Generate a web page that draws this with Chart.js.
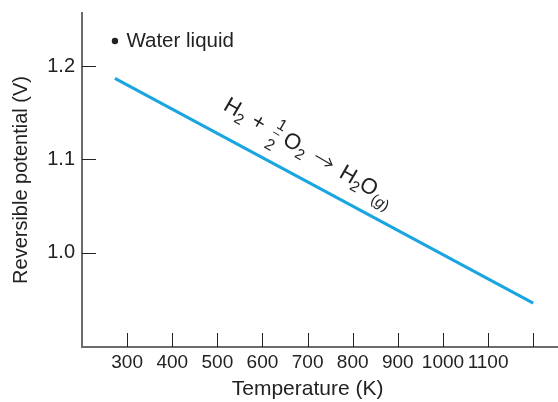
<!DOCTYPE html>
<html><head><meta charset="utf-8">
<script src="https://cdn.jsdelivr.net/npm/chart.js@4"></script>
<style>html,body{margin:0;padding:0;background:#fff}</style>
</head><body>
<canvas id="c" width="558" height="402"></canvas>
<script>
const temperatures = [273, 1200];
const potentials = [1.187, 0.946];
const xTickValues = [300, 400, 500, 600, 700, 800, 900, 1000, 1100, 1200];
const xTickLabels = ['300', '400', '500', '600', '700', '800', '900', '1000', '1100', ''];
const yTickValues = [1.0, 1.1, 1.2];
const yTickLabels = ['1.0', '1.1', '1.2'];
const xTitle = 'Temperature (K)';
const yTitle = 'Reversible potential (V)';
const legendText = 'Water liquid';
const legendPoint = [273, 1.227];
const reactionAnchorT = 486;

const FAMILY = '"Liberation Sans", Arial, Helvetica, sans-serif';
const TXT = '#222';

const insideTicks = {
  id: 'insideTicks',
  afterDraw(chart) {
    const ctx = chart.ctx, xs = chart.scales.x, ys = chart.scales.y;
    ctx.save();
    ctx.strokeStyle = '#222';
    ctx.lineWidth = 1;
    xs.ticks.forEach(t => {
      const px = Math.round(xs.getPixelForValue(t.value)) + 0.5;
      ctx.beginPath(); ctx.moveTo(px, ys.bottom); ctx.lineTo(px, ys.bottom - 14); ctx.stroke();
    });
    ys.ticks.forEach(t => {
      const py = Math.round(ys.getPixelForValue(t.value)) + 0.5;
      ctx.beginPath(); ctx.moveTo(xs.left, py); ctx.lineTo(xs.left + 14, py); ctx.stroke();
    });
    // x axis title centred under the labelled ticks
    const lab = xTickValues.filter((v, i) => xTickLabels[i] !== '');
    const cxT = (xs.getPixelForValue(lab[0]) + xs.getPixelForValue(lab[lab.length - 1])) / 2;
    ctx.fillStyle = TXT;
    ctx.font = '21px ' + FAMILY;
    ctx.textAlign = 'center';
    ctx.textBaseline = 'alphabetic';
    ctx.fillText(xTitle, cxT, xs.bottom - 7);
    ctx.restore();
  }
};

const annotations = {
  id: 'annotations',
  afterDatasetsDraw(chart) {
    const ctx = chart.ctx, xs = chart.scales.x, ys = chart.scales.y;
    ctx.save();
    // legend-like label
    const lx = xs.getPixelForValue(legendPoint[0]);
    const ly = ys.getPixelForValue(legendPoint[1]);
    ctx.fillStyle = TXT;
    ctx.beginPath(); ctx.arc(lx, ly, 3.2, 0, Math.PI * 2); ctx.fill();
    ctx.font = '20.5px ' + FAMILY;
    ctx.textBaseline = 'alphabetic';
    ctx.textAlign = 'left';
    ctx.fillText(legendText, lx + 11.5, ly + 6);

    // reaction text along the line
    const x0 = xs.getPixelForValue(temperatures[0]), y0 = ys.getPixelForValue(potentials[0]);
    const x1 = xs.getPixelForValue(temperatures[1]), y1 = ys.getPixelForValue(potentials[1]);
    const ang = Math.atan2(y1 - y0, x1 - x0);
    const ax = xs.getPixelForValue(reactionAnchorT);
    const ay = y0 + (ax - x0) * (y1 - y0) / (x1 - x0);
    const off = 23.7;
    const bx = ax + Math.sin(ang) * off, by = ay - Math.cos(ang) * off;
    ctx.translate(bx, by);
    ctx.rotate(ang + 2 * Math.PI / 180);
    let cx = 0;
    const big = '22px ' + FAMILY, small = '15px ' + FAMILY, smallIt = 'italic 15px ' + FAMILY;
    function put(t, font, dy, kern) {
      ctx.font = font;
      cx += kern || 0;
      ctx.fillText(t, cx, dy || 0);
      cx += ctx.measureText(t).width;
    }
    put('H', big); put('2', small, 5, -0.5);
    cx += 8; put('+', big); cx += 10;
    // fraction 1/2
    ctx.font = '16px ' + FAMILY;
    const fw = ctx.measureText('2').width;
    ctx.fillText('1', cx + 1, -11);
    ctx.fillText('2', cx, 12);
    ctx.lineWidth = 1; ctx.strokeStyle = TXT;
    ctx.beginPath(); ctx.moveTo(cx + 1, -6); ctx.lineTo(cx + fw - 1, -6); ctx.stroke();
    cx += fw + 5;
    put('O', big); put('2', small, 5);
    cx += 10;
    // arrow
    const aw = 19, ayy = -7;
    ctx.lineWidth = 1.2;
    ctx.beginPath();
    ctx.moveTo(cx, ayy); ctx.lineTo(cx + aw, ayy);
    ctx.moveTo(cx + aw - 6, ayy - 4.5); ctx.lineTo(cx + aw, ayy); ctx.lineTo(cx + aw - 6, ayy + 4.5);
    ctx.stroke();
    cx += aw + 11;
    put('H', big); put('2', small, 5, -0.5); put('O', big, 0, -0.5);
    put('(', small, 6); put('g', smallIt, 6); put(')', small, 6);
    ctx.restore();
  }
};

new Chart(document.getElementById('c'), {
  type: 'line',
  data: {
    datasets: [{
      data: temperatures.map((t, i) => ({ x: t, y: potentials[i] })),
      borderColor: '#1aa5e0',
      borderWidth: 3,
      pointRadius: 0,
      tension: 0,
      fill: false
    }]
  },
  options: {
    responsive: false,
    animation: false,
    devicePixelRatio: 1,
    layout: { padding: { top: 13, right: 0, left: 0, bottom: 0 } },
    plugins: { legend: { display: false }, tooltip: { enabled: false } },
    scales: {
      x: {
        type: 'linear', min: 200, max: 1255,
        afterBuildTicks: s => { s.ticks = xTickValues.map(v => ({ value: v })); },
        afterFit: s => { s.height = 55; s.paddingLeft = 0; s.paddingRight = 0; },
        grid: { display: false, drawTicks: false },
        border: { display: true, color: '#6b6b6b', width: 2 },
        ticks: {
          autoSkip: false, maxRotation: 0, minRotation: 0, padding: 4, color: TXT,
          font: { family: FAMILY, size: 19 },
          callback: v => { const i = xTickValues.indexOf(v); return i >= 0 ? xTickLabels[i] : ''; }
        },
        title: { display: false }
      },
      y: {
        type: 'linear', min: 0.899, max: 1.257,
        afterBuildTicks: s => { s.ticks = yTickValues.map(v => ({ value: v })); },
        afterFit: s => { s.width = 82; s.paddingTop = 0; s.paddingBottom = 0; },
        grid: { display: false, drawTicks: false },
        border: { display: true, color: '#6b6b6b', width: 2 },
        ticks: {
          autoSkip: false, padding: 7, color: TXT,
          font: { family: FAMILY, size: 20 },
          callback: v => { const i = yTickValues.findIndex(t => Math.abs(t - v) < 1e-9); return i >= 0 ? yTickLabels[i] : ''; }
        },
        title: { display: true, text: yTitle, color: TXT, font: { family: FAMILY, size: 20 }, padding: { top: 9, bottom: 0 } }
      }
    }
  },
  plugins: [insideTicks, annotations]
});
</script>
</body></html>
